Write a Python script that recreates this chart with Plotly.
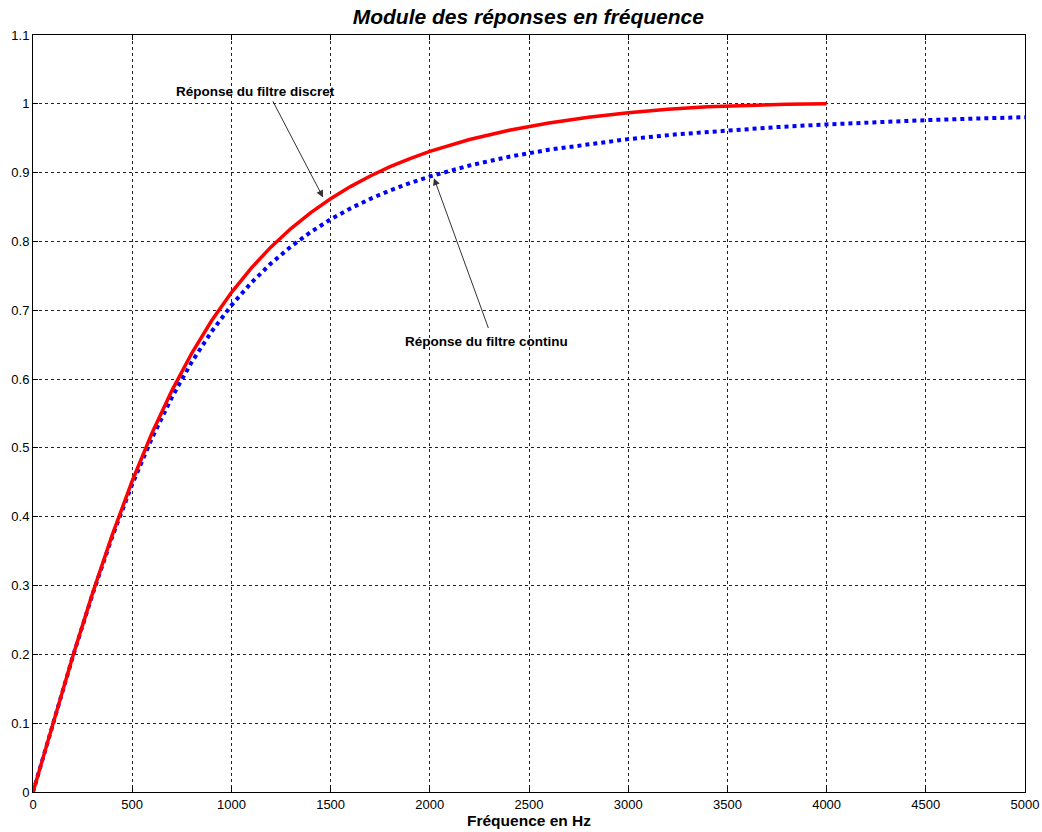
import plotly.graph_objects as go

# Frequency grids (Hz)
freq_continu = [0, 100, 200, 300, 400, 500, 600, 700, 800, 900, 1000, 1100, 1200,
                1300, 1400, 1500, 1600, 1700, 1800, 1900, 2000, 2200, 2400, 2600,
                2800, 3000, 3250, 3500, 3750, 4000, 4250, 4500, 4750, 5000]
module_continu = [0.0, 0.0995, 0.1961, 0.2873, 0.3714, 0.4472, 0.5145, 0.5735,
                  0.6247, 0.6690, 0.7071, 0.7399, 0.7682, 0.7926, 0.8137, 0.8321,
                  0.8480, 0.8619, 0.8742, 0.8849, 0.8944, 0.9104, 0.9231, 0.9333,
                  0.9417, 0.9487, 0.9558, 0.9615, 0.9662, 0.9701, 0.9734, 0.9762,
                  0.9785, 0.9806]

freq_discret = [0, 100, 200, 300, 400, 500, 600, 700, 800, 900, 1000, 1100, 1200,
                1300, 1400, 1500, 1600, 1700, 1800, 1900, 2000, 2200, 2400, 2600,
                2800, 3000, 3200, 3400, 3600, 3800, 4000]
module_discret = [0.0, 0.0995, 0.1965, 0.2886, 0.3740, 0.4519, 0.5216, 0.5833,
                  0.6375, 0.6847, 0.7257, 0.7613, 0.7921, 0.8188, 0.8420, 0.8621,
                  0.8797, 0.8951, 0.9086, 0.9204, 0.9308, 0.9481, 0.9616, 0.9722,
                  0.9806, 0.9870, 0.9920, 0.9956, 0.9981, 0.9995, 1.0]

x_ticks = [0, 500, 1000, 1500, 2000, 2500, 3000, 3500, 4000, 4500, 5000]
y_ticks = [0, 0.1, 0.2, 0.3, 0.4, 0.5, 0.6, 0.7, 0.8, 0.9, 1, 1.1]
y_labels = ["0", "0.1", "0.2", "0.3", "0.4", "0.5", "0.6", "0.7", "0.8", "0.9", "1", "1.1"]

fig = go.Figure()

fig.add_trace(go.Scatter(
    x=freq_continu, y=module_continu, mode="lines",
    line=dict(color="#0000ff", width=4, dash="dot"),
    name="continu", showlegend=False,
))
fig.add_trace(go.Scatter(
    x=freq_discret, y=module_discret, mode="lines",
    line=dict(color="#ff0000", width=3.5),
    name="discret", showlegend=False,
))

sans = "Liberation Sans, Arial, sans-serif"

axis_common = dict(
    showline=True, linecolor="black", linewidth=1, mirror="ticks",
    ticks="inside", ticklen=5, tickcolor="black",
    showgrid=True, gridcolor="#222222", gridwidth=1, griddash="3px,3px",
    zeroline=False, automargin=False, ticklabeloverflow="allow",
    tickfont=dict(family=sans, size=13, color="black"),
)

fig.update_xaxes(
    range=[0, 5000], tickvals=x_ticks, ticktext=[str(v) for v in x_ticks],
    title=dict(text="<b>Fréquence en Hz</b>", standoff=2,
               font=dict(family=sans, size=15.5, color="black")),
    **axis_common,
)
fig.update_yaxes(
    range=[0, 1.1], tickvals=y_ticks, ticktext=y_labels,
    **axis_common,
)

font_lbl = dict(family=sans, size=13.5, color="black")

fig.update_layout(
    width=1042, height=832,
    margin=dict(l=33, r=17, t=35, b=40, autoexpand=False),
    paper_bgcolor="white", plot_bgcolor="white",
    title=dict(text="<b><i>Module des réponses en fréquence</i></b>",
               x=0.507, xanchor="center", y=0.980, yanchor="middle",
               automargin=False,
               font=dict(family=sans, size=21, color="black")),
    annotations=[
        dict(x=1462, y=0.864, ax=1205, ay=1.006, xref="x", yref="y",
             axref="x", ayref="y", text="", showarrow=True,
             arrowhead=2, arrowsize=1.4, arrowwidth=1, arrowcolor="#333333"),
        dict(x=1121, y=1.018, xref="x", yref="y", text="<b>Réponse du filtre discret</b>",
             showarrow=False, font=font_lbl),
        dict(x=2021, y=0.892, ax=2298, ay=0.672, xref="x", yref="y",
             axref="x", ayref="y", text="", showarrow=True,
             arrowhead=2, arrowsize=1.4, arrowwidth=1, arrowcolor="#333333"),
        dict(x=2288, y=0.655, xref="x", yref="y", text="<b>Réponse du filtre continu</b>",
             showarrow=False, font=font_lbl),
    ],
)

fig.write_html("out.html")
